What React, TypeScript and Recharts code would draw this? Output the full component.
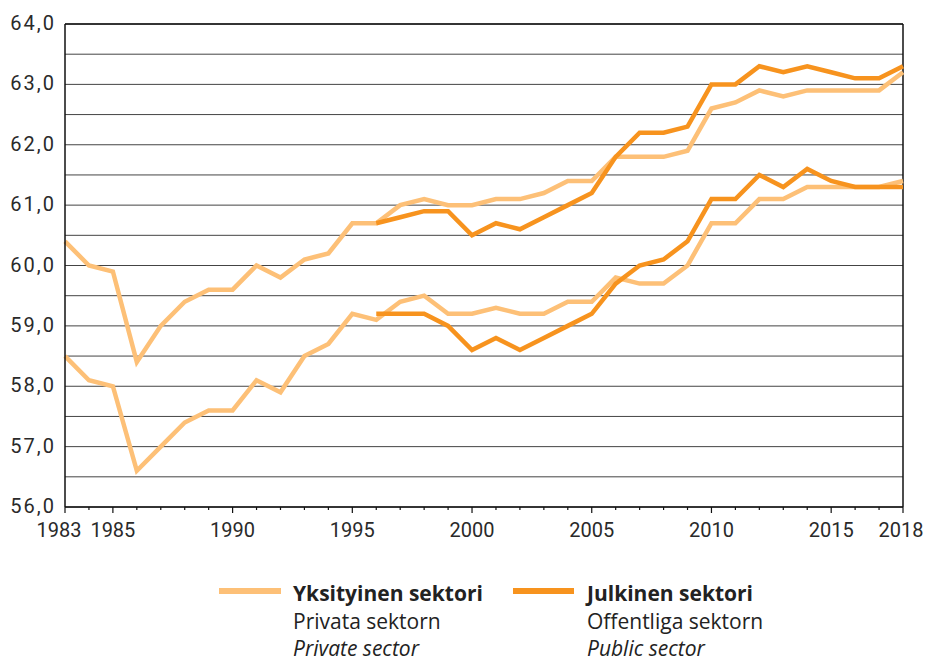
import React from 'react';
import { LineChart, Line, XAxis, YAxis, CartesianGrid, ReferenceLine } from 'recharts';

const years = [
  1983, 1984, 1985, 1986, 1987, 1988, 1989, 1990, 1991, 1992, 1993, 1994,
  1995, 1996, 1997, 1998, 1999, 2000, 2001, 2002, 2003, 2004, 2005, 2006,
  2007, 2008, 2009, 2010, 2011, 2012, 2013, 2014, 2015, 2016, 2017, 2018,
];

// private sector, two series from 1983
const privateHigh = [
  60.4, 60.0, 59.9, 58.4, 59.0, 59.4, 59.6, 59.6, 60.0, 59.8, 60.1, 60.2,
  60.7, 60.7, 61.0, 61.1, 61.0, 61.0, 61.1, 61.1, 61.2, 61.4, 61.4, 61.8,
  61.8, 61.8, 61.9, 62.6, 62.7, 62.9, 62.8, 62.9, 62.9, 62.9, 62.9, 63.2,
];
const privateLow = [
  58.5, 58.1, 58.0, 56.6, 57.0, 57.4, 57.6, 57.6, 58.1, 57.9, 58.5, 58.7,
  59.2, 59.1, 59.4, 59.5, 59.2, 59.2, 59.3, 59.2, 59.2, 59.4, 59.4, 59.8,
  59.7, 59.7, 60.0, 60.7, 60.7, 61.1, 61.1, 61.3, 61.3, 61.3, 61.3, 61.4,
];

// public sector, two series from 1996
const publicStart = 1996;
const publicHigh = [
  60.7, 60.8, 60.9, 60.9, 60.5, 60.7, 60.6, 60.8, 61.0, 61.2, 61.8, 62.2,
  62.2, 62.3, 63.0, 63.0, 63.3, 63.2, 63.3, 63.2, 63.1, 63.1, 63.3,
];
const publicLow = [
  59.2, 59.2, 59.2, 59.0, 58.6, 58.8, 58.6, 58.8, 59.0, 59.2, 59.7, 60.0,
  60.1, 60.4, 61.1, 61.1, 61.5, 61.3, 61.6, 61.4, 61.3, 61.3, 61.3,
];

const yTicks = [56, 56.5, 57, 57.5, 58, 58.5, 59, 59.5, 60, 60.5, 61, 61.5, 62, 62.5, 63, 63.5, 64];
const xLabelYears = [1983, 1985, 1990, 1995, 2000, 2005, 2010, 2015, 2018];

const LIGHT = '#FDC077';
const DARK = '#F7931E';
const FONT = 'Roboto, "Open Sans", sans-serif';
const LEGEND_FONT = '"Open Sans", Roboto, sans-serif';

const data = years.map((year, i) => {
  const j = year - publicStart;
  return {
    year,
    privateHigh: privateHigh[i],
    privateLow: privateLow[i],
    publicHigh: j >= 0 ? publicHigh[j] : null,
    publicLow: j >= 0 ? publicLow[j] : null,
  };
});

const XTick = (props: any) => {
  const { x, y, payload } = props;
  const major = xLabelYears.includes(payload.value);
  // first and last labels sit a little inward, as in the original
  const shift = payload.value === 1983 ? -6 : payload.value === 2018 ? -2 : 0;
  return (
    <g>
      <line x1={x} x2={x} y1={y} y2={y + (major ? 6 : 3)} stroke="#111" strokeWidth={1.2} />
      {major && (
        <text x={x + shift} y={y + 30} textAnchor="middle" fontSize={20} fontFamily={FONT} fill="#2a2a2a">
          {payload.value}
        </text>
      )}
    </g>
  );
};

const YTick = (props: any) => {
  const { x, y, payload } = props;
  if (!Number.isInteger(payload.value)) return <g />;
  return (
    <text
      x={x - 9}
      y={y + 6}
      textAnchor="end"
      fontSize={20}
      letterSpacing={2}
      fontFamily={FONT}
      fill="#2a2a2a"
    >
      {payload.value.toFixed(1).replace('.', ',')}
    </text>
  );
};

const legendText: React.CSSProperties = {
  position: 'absolute',
  top: 580,
  fontFamily: LEGEND_FONT,
  fontSize: 21,
  lineHeight: '27.5px',
  color: '#222',
  whiteSpace: 'nowrap',
};

export default function App() {
  return (
    <div style={{ position: 'absolute', left: 0, top: 0, width: 929, height: 661, background: '#fff' }}>
      <LineChart
        width={929}
        height={661}
        data={data}
        margin={{ top: 24, right: 26, left: 0, bottom: 114 }}
      >
        <CartesianGrid vertical={false} stroke="#444" strokeWidth={1} />
        <XAxis
          dataKey="year"
          type="number"
          domain={[1983, 2018]}
          ticks={years}
          interval={0}
          tickSize={0}
          tickMargin={0}
          tickLine={false}
          tick={<XTick />}
          axisLine={{ stroke: '#111', strokeWidth: 1.5 }}
          height={40}
        />
        <YAxis
          type="number"
          domain={[56, 64]}
          ticks={yTicks}
          interval={0}
          tickSize={0}
          tickMargin={0}
          tickLine={false}
          tick={<YTick />}
          axisLine={{ stroke: '#111', strokeWidth: 1.5 }}
          width={65}
        />
        <ReferenceLine y={64} stroke="#111" strokeWidth={1.5} />
        <ReferenceLine x={2018} stroke="#111" strokeWidth={1.5} />
        <Line dataKey="privateHigh" stroke={LIGHT} strokeWidth={4.5} dot={false} isAnimationActive={false} />
        <Line dataKey="privateLow" stroke={LIGHT} strokeWidth={4.5} dot={false} isAnimationActive={false} />
        <Line dataKey="publicHigh" stroke={DARK} strokeWidth={4.5} dot={false} isAnimationActive={false} />
        <Line dataKey="publicLow" stroke={DARK} strokeWidth={4.5} dot={false} isAnimationActive={false} />
      </LineChart>

      <div style={{ position: 'absolute', left: 219, top: 588, width: 62, height: 5.5, background: LIGHT }} />
      <div style={{ ...legendText, left: 293 }}>
        <div style={{ fontWeight: 700 }}>Yksityinen sektori</div>
        <div>Privata sektorn</div>
        <div style={{ fontStyle: 'italic' }}>Private sector</div>
      </div>

      <div style={{ position: 'absolute', left: 513, top: 588, width: 61, height: 5.5, background: DARK }} />
      <div style={{ ...legendText, left: 587 }}>
        <div style={{ fontWeight: 700 }}>Julkinen sektori</div>
        <div>Offentliga sektorn</div>
        <div style={{ fontStyle: 'italic' }}>Public sector</div>
      </div>
    </div>
  );
}
